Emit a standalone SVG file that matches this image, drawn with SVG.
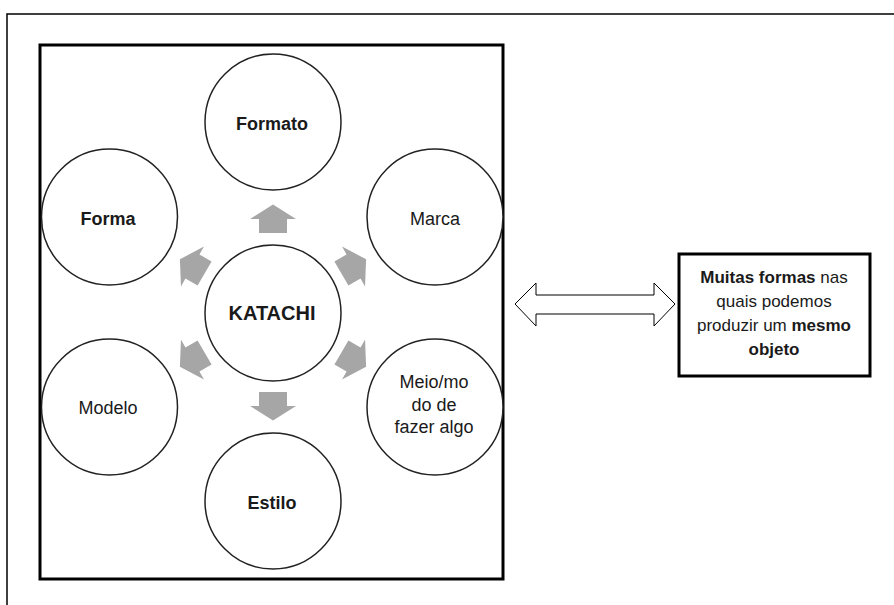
<svg xmlns="http://www.w3.org/2000/svg" width="894" height="605" viewBox="0 0 894 605">
<style>
  .frame { fill: none; stroke: #000; stroke-width: 1.5; }
  .inner { fill: #fff; stroke: #000; stroke-width: 3; }
  .node { fill: #fff; stroke: #222; stroke-width: 1.5; }
  .t { font-family: "Liberation Sans", Arial, sans-serif; font-size: 18px; fill: #1a1a1a; text-anchor: middle; }
  .b { font-weight: bold; }
  .big { font-size: 20px; }
  .bt { font-family: "Liberation Sans", Arial, sans-serif; font-size: 17px; fill: #1a1a1a; text-anchor: middle; }
  .ga { fill: #a6a6a6; }
  .dbl { fill: #fff; stroke: #000; stroke-width: 1; }
  .box { fill: #fff; stroke: #000; stroke-width: 3; }
</style>
<defs>
  <polygon id="garrow" points="0,-14.5 23,0 14,0 14,14 -14,14 -14,0 -23,0"/>
</defs>
<rect width="894" height="605" fill="#fff"/>
<path class="frame" d="M7,605 V14 H894"/>
<rect class="inner" x="40" y="45" width="463" height="534"/>

<g id="connectors">
  <use href="#garrow" class="ga" transform="translate(273,313) rotate(0) translate(0,-94)"/>
  <use href="#garrow" class="ga" transform="translate(273,313) rotate(60) translate(0,-93)"/>
  <use href="#garrow" class="ga" transform="translate(273,313) rotate(120) translate(0,-93)"/>
  <use href="#garrow" class="ga" transform="translate(273,313) rotate(180) translate(0,-93)"/>
  <use href="#garrow" class="ga" transform="translate(273,313) rotate(240) translate(0,-93)"/>
  <use href="#garrow" class="ga" transform="translate(273,313) rotate(300) translate(0,-93)"/>
  <polygon class="dbl" points="515,304 536,283 536,295 654,295 654,283 675,304 654,326 654,314 536,314 536,326"/>
</g>

<g id="katachi">
  <circle class="node" cx="273" cy="313" r="68"/>
  <text class="t b big" x="272" y="320">KATACHI</text>
</g>
<g id="formato">
  <circle class="node" cx="273" cy="122" r="68"/>
  <text class="t b" x="272" y="130">Formato</text>
</g>
<g id="marca">
  <circle class="node" cx="435" cy="217" r="68"/>
  <text class="t" x="435" y="225">Marca</text>
</g>
<g id="forma">
  <circle class="node" cx="109.5" cy="217" r="68"/>
  <text class="t b" x="108" y="225">Forma</text>
</g>
<g id="modelo">
  <circle class="node" cx="109.5" cy="407" r="68"/>
  <text class="t" x="108" y="414">Modelo</text>
</g>
<g id="meio">
  <circle class="node" cx="435" cy="407" r="68"/>
  <text class="t" x="434" y="388">Meio/mo</text>
  <text class="t" x="434" y="411">do de</text>
  <text class="t" x="434" y="433">fazer algo</text>
</g>
<g id="estilo">
  <circle class="node" cx="273" cy="501" r="68"/>
  <text class="t b" x="272" y="509">Estilo</text>
</g>

<g id="descricao">
  <rect class="box" x="679" y="254" width="191" height="122"/>
  <text class="bt" x="774" y="283"><tspan font-weight="bold">Muitas formas</tspan> nas</text>
  <text class="bt" x="774" y="307">quais podemos</text>
  <text class="bt" x="774" y="331">produzir um <tspan font-weight="bold">mesmo</tspan></text>
  <text class="bt b" x="774" y="355">objeto</text>
</g>
</svg>
